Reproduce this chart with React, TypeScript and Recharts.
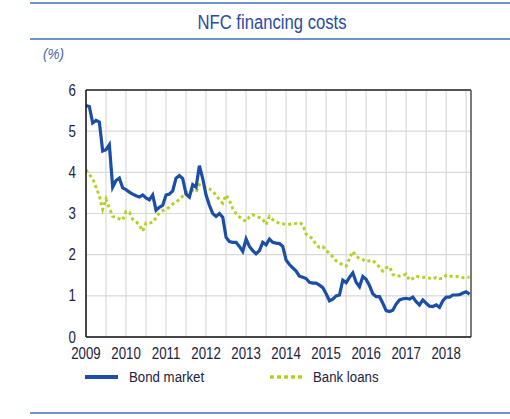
import { LineChart, Line, XAxis, YAxis, CartesianGrid, ReferenceLine } from 'recharts';

// monthly observations, Jan 2009 .. Aug 2018 (%)
const START_YEAR = 2009;

const bondMarket = [
  5.62, 5.6, 5.2, 5.26, 5.22, 4.52, 4.55, 4.67, 3.64, 3.8, 3.86, 3.62,
  3.58, 3.52, 3.47, 3.43, 3.4, 3.45, 3.38, 3.33, 3.45, 3.08, 3.15, 3.2,
  3.45, 3.47, 3.55, 3.86, 3.92, 3.85, 3.47, 3.4, 3.7, 3.64, 4.16, 3.85,
  3.45, 3.2, 3.0, 2.93, 3.0, 2.91, 2.42, 2.32, 2.3, 2.3, 2.2, 2.08,
  2.38, 2.2, 2.1, 2.02, 2.1, 2.3, 2.24, 2.38, 2.3, 2.28, 2.27, 2.2,
  1.87, 1.76, 1.68, 1.6, 1.48, 1.45, 1.42, 1.33, 1.31, 1.31, 1.26, 1.2,
  1.05, 0.88, 0.92, 1.0, 1.02, 1.38, 1.32, 1.45, 1.56, 1.33, 1.22, 1.47,
  1.4, 1.25, 1.05, 0.98, 0.98, 0.82, 0.64, 0.62, 0.65, 0.8, 0.9, 0.93,
  0.94, 0.92, 0.97, 0.86, 0.78, 0.9, 0.82, 0.75, 0.74, 0.78, 0.72, 0.88,
  0.97, 0.97, 1.02, 1.02, 1.03, 1.07, 1.1, 1.04,
];

const bankLoans = [
  4.06, 3.95, 3.84, 3.64, 3.43, 3.1, 3.35, 3.13, 2.93, 2.9, 2.87, 2.84,
  3.05, 3.03, 2.86, 2.8, 2.72, 2.57, 2.77, 2.77, 2.78, 2.9, 3.02, 3.07,
  3.1, 3.15, 3.23, 3.28, 3.34, 3.42, 3.5, 3.53, 3.56, 3.52, 3.7, 3.66,
  3.63, 3.6, 3.53, 3.45, 3.33, 3.25, 3.45, 3.32, 3.12, 3.0, 2.92, 2.85,
  2.81, 2.92, 2.97, 2.93, 2.9, 2.86, 2.73, 2.93, 2.85, 2.8, 2.76, 2.75,
  2.73, 2.74, 2.75, 2.76, 2.78, 2.73, 2.5, 2.45, 2.38, 2.24, 2.18, 2.2,
  2.1, 2.03, 1.95, 1.85, 1.8, 1.75, 1.72, 1.9, 2.08, 1.96, 1.91, 1.88,
  1.83, 1.85, 1.86, 1.78, 1.7, 1.6, 1.68, 1.71, 1.52, 1.48, 1.48, 1.5,
  1.53, 1.38, 1.42, 1.48, 1.46, 1.45, 1.45, 1.43, 1.4, 1.45, 1.42, 1.42,
  1.5, 1.48, 1.47, 1.47, 1.46, 1.44, 1.45, 1.45,
];

const yearTicks = [2009, 2010, 2011, 2012, 2013, 2014, 2015, 2016, 2017, 2018];
const gridTicks = [
  2009, 2009.5, 2010, 2010.5, 2011, 2011.5, 2012, 2012.5, 2013, 2013.5,
  2014, 2014.5, 2015, 2015.5, 2016, 2016.5, 2017, 2017.5, 2018, 2018.5,
];
const yTicks = [0, 1, 2, 3, 4, 5, 6];
const X_MAX = 2018.62;

const data = bondMarket.map((v, i) => ({
  t: START_YEAR + i / 12,
  bond: v,
  bank: bankLoans[i],
}));

const FONT = '"Liberation Sans", Arial, sans-serif';
const BLUE = '#1b4ea6';
const GREEN = '#b6cf22';
const RULE = '#6f92d2';
const TEXT = '#1d2340';
const NARROW = 0.84;

// condensed-looking text (Helvetica Condensed in the original)
function XTick(props: any) {
  const { x, y, payload } = props;
  if (!yearTicks.includes(payload.value)) return <g />;
  return (
    <g transform={`translate(${x},${y})`}>
      <text transform={`scale(${NARROW},1)`} textAnchor="middle" dy={16} fontSize={15.8} fill={TEXT} fontFamily={FONT}>
        {payload.value}
      </text>
    </g>
  );
}

function YTick(props: any) {
  const { x, y, payload } = props;
  return (
    <g transform={`translate(${x},${y})`}>
      <text transform={`scale(${NARROW},1)`} textAnchor="end" dy={5.5} fontSize={15.8} fill={TEXT} fontFamily={FONT}>
        {payload.value}
      </text>
    </g>
  );
}

export default function App() {
  return (
    <div style={{ position: 'absolute', left: 0, top: 0, width: 510, height: 419, background: '#fff', fontFamily: FONT }}>
      <div style={{ position: 'absolute', left: 30, right: 0, top: 2, height: 1.5, background: RULE }} />
      <svg style={{ position: 'absolute', left: 0, top: 0 }} width={510} height={70}>
        <g transform="translate(272,29) scale(0.855,1)">
          <text textAnchor="middle" fontSize={19.5} fill="#2a4ba3" fontFamily={FONT}>NFC financing costs</text>
        </g>
        <g transform="translate(43,59) scale(0.9,1)">
          <text fontSize={15} fontStyle="italic" fill="#4a5fa6" fontFamily={FONT}>(%)</text>
        </g>
      </svg>
      <div style={{ position: 'absolute', left: 30, right: 0, top: 38, height: 1.5, background: RULE }} />

      <LineChart
        width={510}
        height={419}
        data={data}
        margin={{ top: 90, right: 39, bottom: 52, left: 56 }}
        style={{ position: 'absolute', left: 0, top: 0 }}
      >
        <CartesianGrid stroke="#d9d9d9" strokeWidth={1.2} horizontal vertical />
        <XAxis
          type="number"
          dataKey="t"
          domain={[START_YEAR, X_MAX]}
          ticks={gridTicks}
          interval={0}
          axisLine={{ stroke: '#111', strokeWidth: 1.5 }}
          tickLine={false}
          tickMargin={0}
          height={30}
          tick={<XTick />}
          allowDataOverflow
        />
        <YAxis
          type="number"
          domain={[0, 6]}
          ticks={yTicks}
          interval={0}
          axisLine={{ stroke: '#111', strokeWidth: 1.5 }}
          tickLine={false}
          tickMargin={4}
          width={30}
          tick={<YTick />}
        />
        <ReferenceLine y={6} stroke="#222" strokeWidth={1.5} />
        <ReferenceLine x={X_MAX} stroke="#555" strokeWidth={1.5} />
        <Line
          dataKey="bank"
          stroke={GREEN}
          strokeWidth={3}
          strokeDasharray="3 3"
          dot={false}
          type="linear"
          isAnimationActive={false}
        />
        <Line
          dataKey="bond"
          stroke={BLUE}
          strokeWidth={3.2}
          dot={false}
          type="linear"
          isAnimationActive={false}
        />
      </LineChart>

      {/* legend */}
      <svg style={{ position: 'absolute', left: 0, top: 365 }} width={510} height={24}>
        <line x1={85} x2={118} y1={12} y2={12} stroke={BLUE} strokeWidth={4} />
        <g transform="translate(129,17) scale(0.86,1)">
          <text fontSize={15.4} fill={TEXT} fontFamily={FONT}>Bond market</text>
        </g>
        <line x1={270} x2={303} y1={12} y2={12} stroke={GREEN} strokeWidth={3.5} strokeDasharray="4 3" />
        <g transform="translate(313,17) scale(0.86,1)">
          <text fontSize={15.4} fill={TEXT} fontFamily={FONT}>Bank loans</text>
        </g>
      </svg>

      <div style={{ position: 'absolute', left: 30, right: 0, top: 412, height: 1.5, background: RULE }} />
    </div>
  );
}
